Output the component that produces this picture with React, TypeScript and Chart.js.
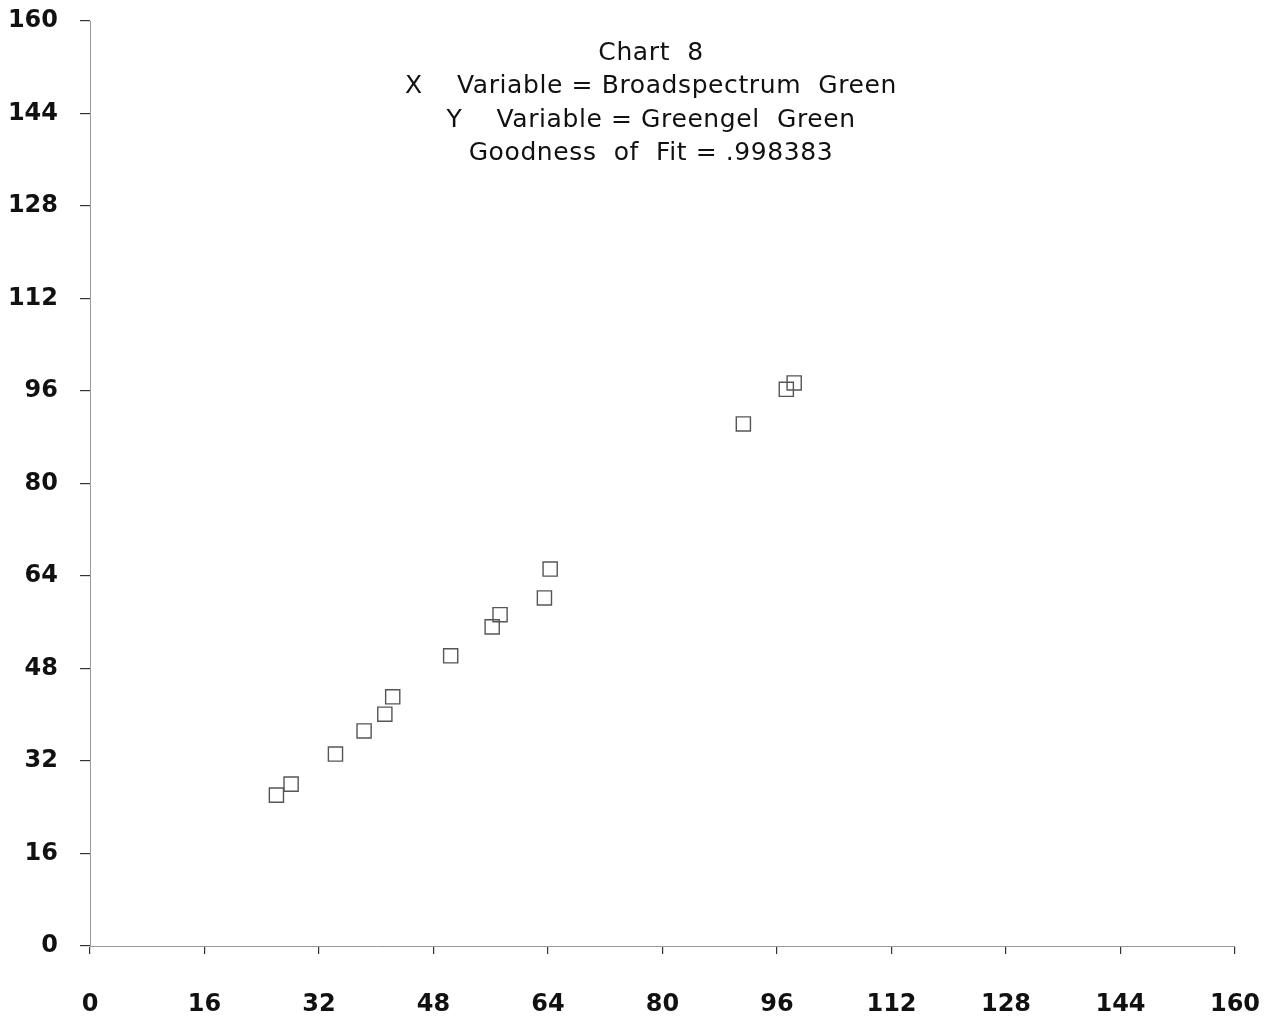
import React, { useEffect, useRef } from "react";
import { Chart, registerables } from "chart.js";

Chart.register(...registerables);

const xValues = [26.05, 28.1, 34.3, 38.3, 41.2, 42.3, 50.4, 56.2, 57.3, 63.5, 64.3, 91.3, 97.3, 98.4];
const yValues = [26.1, 28.0, 33.2, 37.2, 40.1, 43.1, 50.2, 55.2, 57.3, 60.2, 65.2, 90.3, 96.3, 97.4];
const tickValues = [0, 16, 32, 48, 64, 80, 96, 112, 128, 144, 160];
const titleLines = [
  "Chart  8",
  "X    Variable = Broadspectrum  Green",
  "Y    Variable = Greengel  Green",
  "Goodness  of  Fit = .998383",
];

const W = 1281;
const H = 1018;
const FONT = "'DejaVu Sans', 'Liberation Sans', Arial, sans-serif";

export default function App() {
  const ref = useRef<HTMLCanvasElement | null>(null);

  useEffect(() => {
    const canvas = ref.current;
    if (!canvas) return;
    const titlePlugin = {
      id: "titleText",
      afterDraw(chart: any) {
        const ctx = chart.ctx;
        ctx.save();
        ctx.fillStyle = "#111";
        ctx.font = "25px " + FONT;
        try {
          (ctx as any).letterSpacing = "0.6px";
        } catch (e) {}
        ctx.textAlign = "center";
        ctx.textBaseline = "middle";
        titleLines.forEach((t, i) => {
          ctx.fillText(t, 651, 53 + i * 33.6);
        });
        ctx.restore();
      },
    };
    const chart = new Chart(canvas, {
      type: "scatter",
      data: {
        datasets: [
          {
            data: xValues.map((x, i) => ({ x, y: yValues[i] })),
            pointStyle: "rect",
            pointRadius: 10,
            pointBackgroundColor: "rgba(0,0,0,0)",
            pointBorderColor: "#555",
            pointBorderWidth: 1.4,
          },
        ],
      },
      options: {
        responsive: false,
        animation: false,
        layout: { padding: { top: 21, right: 46, left: 0, bottom: 0 } },
        plugins: { legend: { display: false }, tooltip: { enabled: false }, title: { display: false } },
        scales: {
          x: {
            type: "linear",
            min: 0,
            max: 160,
            afterFit: (s: any) => {
              s.height = 72;
              s.paddingLeft = 0;
              s.paddingRight = 0;
            },
            afterBuildTicks: (s: any) => {
              s.ticks = tickValues.map((v) => ({ value: v }));
            },
            grid: { drawOnChartArea: false, drawTicks: true, tickLength: 8, color: "#333", lineWidth: 1.2 },
            border: { display: true, color: "#999", dash: [3, 3], width: 1 },
            ticks: {
              color: "#111",
              padding: 36,
              maxRotation: 0,
              autoSkip: false,
              font: { family: FONT, size: 24, weight: "bold" },
            },
          },
          y: {
            type: "linear",
            min: 0,
            max: 160,
            afterFit: (s: any) => {
              s.width = 90;
              s.paddingTop = 0;
              s.paddingBottom = 0;
            },
            afterBuildTicks: (s: any) => {
              s.ticks = tickValues.map((v) => ({ value: v }));
            },
            grid: { drawOnChartArea: false, drawTicks: true, tickLength: 10, color: "#333", lineWidth: 1.2 },
            border: { display: true, color: "#999", dash: [3, 3], width: 1 },
            ticks: {
              color: "#111",
              padding: 22,
              autoSkip: false,
              font: { family: FONT, size: 24, weight: "bold" },
            },
          },
        },
      },
      plugins: [titlePlugin],
    } as any);
    return () => chart.destroy();
  }, []);

  return (
    <div style={{ position: "fixed", left: 0, top: 0, width: W, height: H, background: "#fff" }}>
      <canvas ref={ref} width={W} height={H} style={{ width: W, height: H, display: "block" }} />
    </div>
  );
}
